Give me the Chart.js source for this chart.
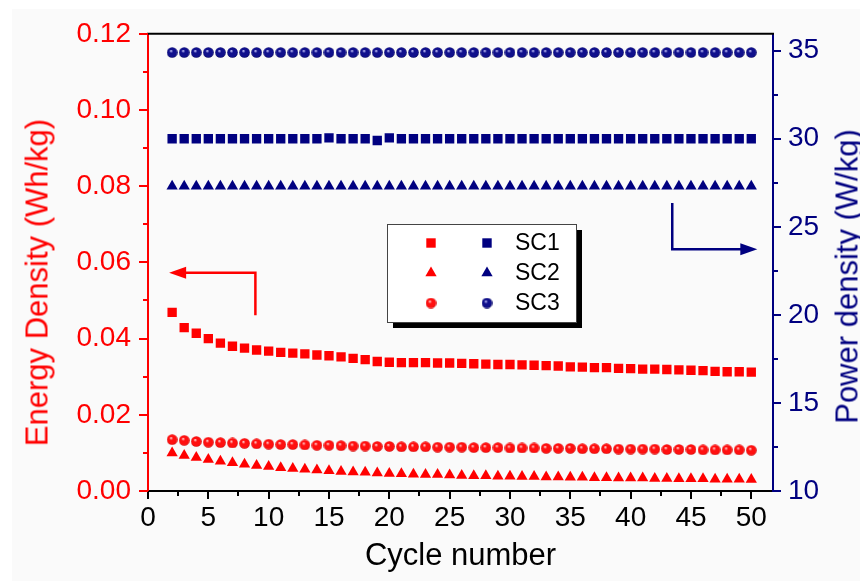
<!DOCTYPE html>
<html>
<head>
<meta charset="utf-8">
<script src="https://cdn.jsdelivr.net/npm/chart.js@4.4.1/dist/chart.umd.min.js"></script>
<style>
html, body { margin: 0; padding: 0; overflow: hidden; background: #fff; width: 860px; height: 581px; }
#wrap { position: relative; width: 860px; height: 581px; overflow: hidden; }
#paper { position: absolute; left: 12px; top: 9px; right: 0; bottom: 0; background: #fafafa; }
#chart { position: absolute; left: 0; top: 0; }
.ytitle {
    position: absolute; width: 440px; height: 31px;
    font-family: 'Liberation Sans', Arial, sans-serif; font-size: 31px; line-height: 31px;
    text-align: center; white-space: nowrap; transform: rotate(-90deg);
}
</style>
</head>
<body>
<div id="wrap">
    <div id="paper"></div>
    <canvas id="chart" width="860" height="581"></canvas>
    <div class="ytitle" style="left:-183.5px; top:266.5px; color:#ff0000;">Energy Density (Wh/kg)</div>
    <div class="ytitle" style="left:626.5px; top:260.5px; color:#000080;">Power density (W/kg)</div>
</div>
<script>
const cycles = [2, 3, 4, 5, 6, 7, 8, 9, 10, 11, 12, 13, 14, 15, 16, 17, 18, 19, 20, 21, 22, 23, 24, 25, 26,
    27, 28, 29, 30, 31, 32, 33, 34, 35, 36, 37, 38, 39, 40, 41, 42, 43, 44, 45, 46, 47, 48, 49, 50];

// energy density (Wh/kg), left axis
const sc1Energy = [0.0469, 0.0429, 0.0414, 0.0400, 0.0388, 0.0380, 0.0375, 0.0370, 0.0367, 0.0364, 0.0362, 0.0360,
    0.0357, 0.0355, 0.0352, 0.0348, 0.0345, 0.0340, 0.0338, 0.0337, 0.0337, 0.0337, 0.0336, 0.0336, 0.0335,
    0.0334, 0.0333, 0.0332, 0.0332, 0.0331, 0.0330, 0.0329, 0.0328, 0.0326, 0.0325, 0.0324, 0.0324, 0.0322,
    0.0321, 0.0320, 0.0320, 0.0319, 0.0318, 0.0317, 0.0316, 0.0314, 0.0313, 0.0313, 0.0312];
const sc2Energy = [0.0100, 0.0093, 0.0088, 0.0083, 0.0078, 0.0074, 0.0070, 0.0067, 0.0064, 0.0061, 0.0059, 0.0057,
    0.0055, 0.0053, 0.0051, 0.0050, 0.0049, 0.0047, 0.0046, 0.0045, 0.0044, 0.0043, 0.0043, 0.0042, 0.0041,
    0.0040, 0.0040, 0.0039, 0.0039, 0.0038, 0.0038, 0.0037, 0.0037, 0.0036, 0.0036, 0.0035, 0.0035, 0.0034,
    0.0034, 0.0034, 0.0033, 0.0033, 0.0032, 0.0032, 0.0032, 0.0031, 0.0031, 0.0031, 0.0030];
const sc3Energy = [0.0135, 0.0133, 0.0130, 0.0128, 0.0127, 0.0126, 0.0125, 0.0124, 0.0123, 0.0122, 0.0122, 0.0121,
    0.0120, 0.0120, 0.0119, 0.0118, 0.0118, 0.0117, 0.0117, 0.0116, 0.0116, 0.0116, 0.0115, 0.0115, 0.0115,
    0.0114, 0.0114, 0.0114, 0.0113, 0.0113, 0.0113, 0.0112, 0.0112, 0.0112, 0.0111, 0.0111, 0.0111, 0.0110,
    0.0110, 0.0110, 0.0110, 0.0109, 0.0109, 0.0109, 0.0108, 0.0108, 0.0108, 0.0108, 0.0107];

// power density (W/kg), right axis
const sc1Power = [30.0, 30.0, 30.0, 30.0, 30.0, 30.0, 30.0, 30.0, 30.0, 30.0, 30.0, 30.0, 30.0, 30.05, 30.0, 30.0,
    30.0, 29.9, 30.05, 30.0, 30.0, 30.0, 30.0, 30.0, 30.0, 30.0, 30.0, 30.0, 30.0, 30.0, 30.0, 30.0, 30.0,
    30.0, 30.0, 30.0, 30.0, 30.0, 30.0, 30.0, 30.0, 30.0, 30.0, 30.0, 30.0, 30.0, 30.0, 30.0, 30.0];
const sc2Power = [27.3, 27.3, 27.3, 27.3, 27.3, 27.3, 27.3, 27.3, 27.3, 27.3, 27.3, 27.3, 27.3, 27.3, 27.3, 27.3,
    27.3, 27.3, 27.3, 27.3, 27.3, 27.3, 27.3, 27.3, 27.3, 27.3, 27.3, 27.3, 27.3, 27.3, 27.3, 27.3, 27.3,
    27.3, 27.3, 27.3, 27.3, 27.3, 27.3, 27.3, 27.3, 27.3, 27.3, 27.3, 27.3, 27.3, 27.3, 27.3, 27.3];
const sc3Power = [34.9, 34.9, 34.9, 34.9, 34.9, 34.9, 34.9, 34.9, 34.9, 34.9, 34.9, 34.9, 34.9, 34.9, 34.9, 34.9,
    34.9, 34.9, 34.9, 34.9, 34.9, 34.9, 34.9, 34.9, 34.9, 34.9, 34.9, 34.9, 34.9, 34.9, 34.9, 34.9, 34.9,
    34.9, 34.9, 34.9, 34.9, 34.9, 34.9, 34.9, 34.9, 34.9, 34.9, 34.9, 34.9, 34.9, 34.9, 34.9, 34.9];

const seriesNames = ['SC1', 'SC2', 'SC3'];
const xTicks = [0, 5, 10, 15, 20, 25, 30, 35, 40, 45, 50];
const energyTicks = [0, 0.02, 0.04, 0.06, 0.08, 0.10, 0.12];
const powerTicks = [10, 15, 20, 25, 30, 35];

const RED = '#ff0000';
const NAVY = '#000080';
const FONT = "'Liberation Sans', Arial, sans-serif";

// shaded ball marker, like the origin sphere symbol
function makeBall(light, base, dark) {
    const c = document.createElement('canvas');
    c.width = 11; c.height = 11;
    const g = c.getContext('2d');
    const grad = g.createRadialGradient(4.2, 3.8, 0.2, 5.5, 5.5, 5.6);
    grad.addColorStop(0, light);
    grad.addColorStop(0.3, base);
    grad.addColorStop(0.8, base);
    grad.addColorStop(1, dark);
    g.fillStyle = grad;
    g.beginPath();
    g.arc(5.5, 5.5, 5.3, 0, Math.PI * 2);
    g.fill();
    return c;
}
const redBall = makeBall('#ffe0e0', '#ff1010', '#c00000');
const navyBall = makeBall('#c8c8ff', '#10108c', '#000050');

const toPoints = ys => cycles.map((c, i) => ({ x: c, y: ys[i] }));

function series(label, ys, axis, color, style) {
    return {
        label: label,
        data: toPoints(ys),
        yAxisID: axis,
        showLine: false,
        backgroundColor: color,
        borderColor: color,
        borderWidth: 0,
        pointStyle: style,
        pointRadius: style === 'rect' ? 6.6 : 6.5,
        pointHoverRadius: 6.6
    };
}

// arrows, given in data units of the axis they point to
const redArrow = { tail: [8.9, 0.0461], corner: [8.9, 0.0573], tip: [1.75, 0.0573] };
const navyArrow = { tail: [43.45, 26.35], corner: [43.45, 23.72], tip: [50.5, 23.72] };

const decor = {
    id: 'decor',
    afterDraw(chart) {
        const { ctx, chartArea: a, scales } = chart;
        ctx.save();
        ctx.lineCap = 'butt';

        // top frame line
        ctx.strokeStyle = '#000';
        ctx.lineWidth = 2;
        ctx.beginPath();
        ctx.moveTo(a.left - 1, a.top);
        ctx.lineTo(a.right + 1, a.top);
        ctx.stroke();

        // major and minor tick marks, pointing outward
        const mids = t => t.slice(1).map((v, i) => (v + t[i]) / 2);
        const marks = (scale, values, len, color, side) => {
            ctx.strokeStyle = color;
            ctx.lineWidth = 2;
            values.forEach(v => {
                const p = Math.round(scale.getPixelForValue(v));
                ctx.beginPath();
                if (side === 'bottom') { ctx.moveTo(p, a.bottom); ctx.lineTo(p, a.bottom + len); }
                if (side === 'left') { ctx.moveTo(a.left, p); ctx.lineTo(a.left - len, p); }
                if (side === 'right') { ctx.moveTo(a.right, p); ctx.lineTo(a.right + len, p); }
                ctx.stroke();
            });
        };
        marks(scales.x, xTicks, 8, '#000', 'bottom');
        marks(scales.x, mids(xTicks), 5, '#000', 'bottom');
        marks(scales.yE, energyTicks, 9, RED, 'left');
        marks(scales.yE, mids(energyTicks), 5, RED, 'left');
        marks(scales.yP, powerTicks, 8, NAVY, 'right');
        marks(scales.yP, mids(powerTicks), 5, NAVY, 'right');

        // arrows
        const arrow = (arr, yScale, color) => {
            const P = d => [scales.x.getPixelForValue(d[0]), yScale.getPixelForValue(d[1])];
            const t = P(arr.tail), c = P(arr.corner), h = P(arr.tip);
            const dir = Math.sign(h[0] - c[0]);
            ctx.strokeStyle = color;
            ctx.fillStyle = color;
            ctx.lineWidth = 2.5;
            ctx.beginPath();
            ctx.moveTo(t[0], t[1]);
            ctx.lineTo(c[0], c[1]);
            ctx.lineTo(h[0] - dir * 14, h[1]);
            ctx.stroke();
            ctx.beginPath();
            ctx.moveTo(h[0], h[1]);
            ctx.lineTo(h[0] - dir * 17, h[1] - 6);
            ctx.lineTo(h[0] - dir * 17, h[1] + 6);
            ctx.closePath();
            ctx.fill();
        };
        arrow(redArrow, scales.yE, RED);
        arrow(navyArrow, scales.yP, NAVY);

        // legend box with drop shadow
        const bx = 387, by = 224, bw = 189, bh = 98;
        ctx.fillStyle = '#000';
        ctx.fillRect(bx + 6, by + 6, bw, bh);
        ctx.fillStyle = '#ffffff';
        ctx.fillRect(bx, by, bw, bh);
        ctx.strokeStyle = '#444';
        ctx.lineWidth = 1;
        ctx.strokeRect(bx + 0.5, by + 0.5, bw, bh);

        const rows = [243, 273, 303];
        const cols = [431, 487];
        const colors = [RED, NAVY];
        const square = (x, y, col) => { ctx.fillStyle = col; ctx.fillRect(x - 4.7, y - 4.7, 9.4, 9.4); };
        const tri = (x, y, col) => {
            const r = 6.5;
            ctx.fillStyle = col;
            ctx.beginPath();
            ctx.moveTo(x, y - r);
            ctx.lineTo(x + r * 0.866, y + r / 2);
            ctx.lineTo(x - r * 0.866, y + r / 2);
            ctx.closePath();
            ctx.fill();
        };
        cols.forEach((x, k) => {
            square(x, rows[0], colors[k]);
            tri(x, rows[1], colors[k]);
            const ball = k === 0 ? redBall : navyBall;
            ctx.drawImage(ball, x - 5.5, rows[2] - 5.5);
        });
        ctx.fillStyle = '#000';
        ctx.font = '23px ' + FONT;
        ctx.textBaseline = 'middle';
        ctx.textAlign = 'left';
        seriesNames.forEach((n, i) => ctx.fillText(n, 515, rows[i] + 1));
        ctx.restore();
    }
};

const ctx = document.getElementById('chart').getContext('2d');
new Chart(ctx, {
    type: 'scatter',
    data: {
        datasets: [
            series(seriesNames[0] + ' energy', sc1Energy, 'yE', RED, 'rect'),
            series(seriesNames[1] + ' energy', sc2Energy, 'yE', RED, 'triangle'),
            series(seriesNames[2] + ' energy', sc3Energy, 'yE', RED, redBall),
            series(seriesNames[0] + ' power', sc1Power, 'yP', NAVY, 'rect'),
            series(seriesNames[1] + ' power', sc2Power, 'yP', NAVY, 'triangle'),
            series(seriesNames[2] + ' power', sc3Power, 'yP', NAVY, navyBall)
        ]
    },
    options: {
        responsive: false,
        animation: false,
        layout: { padding: { top: 30, left: 0, right: 0, bottom: 0 } },
        plugins: {
            legend: { display: false },
            tooltip: { enabled: false }
        },
        scales: {
            x: {
                type: 'linear',
                position: 'bottom',
                min: 0,
                max: 51.8,
                afterFit: s => { s.height = 90; },
                afterBuildTicks: s => { s.ticks = xTicks.map(v => ({ value: v })); },
                grid: { display: false, drawTicks: false },
                border: { display: true, color: '#000', width: 2 },
                ticks: { color: '#000', padding: 10, maxRotation: 0, font: { family: FONT, size: 28 } },
                title: {
                    display: true,
                    text: 'Cycle number',
                    color: '#000',
                    font: { family: FONT, size: 31 },
                    padding: { top: 0, bottom: 6 }
                }
            },
            yE: {
                type: 'linear',
                position: 'left',
                min: 0,
                max: 0.12,
                afterFit: s => { s.width = 148; },
                afterBuildTicks: s => { s.ticks = energyTicks.map(v => ({ value: v })); },
                grid: { display: false, drawTicks: false },
                border: { display: true, color: RED, width: 2 },
                ticks: {
                    color: RED,
                    padding: 17,
                    font: { family: FONT, size: 28 },
                    callback: v => v.toFixed(2)
                }
            },
            yP: {
                type: 'linear',
                position: 'right',
                min: 10,
                max: 35.96,
                afterFit: s => { s.width = 87; },
                afterBuildTicks: s => { s.ticks = powerTicks.map(v => ({ value: v })); },
                grid: { display: false, drawTicks: false },
                border: { display: true, color: NAVY, width: 2 },
                ticks: { color: NAVY, padding: 15, font: { family: FONT, size: 28 } }
            }
        }
    },
    plugins: [decor]
});
</script>
</body>
</html>
